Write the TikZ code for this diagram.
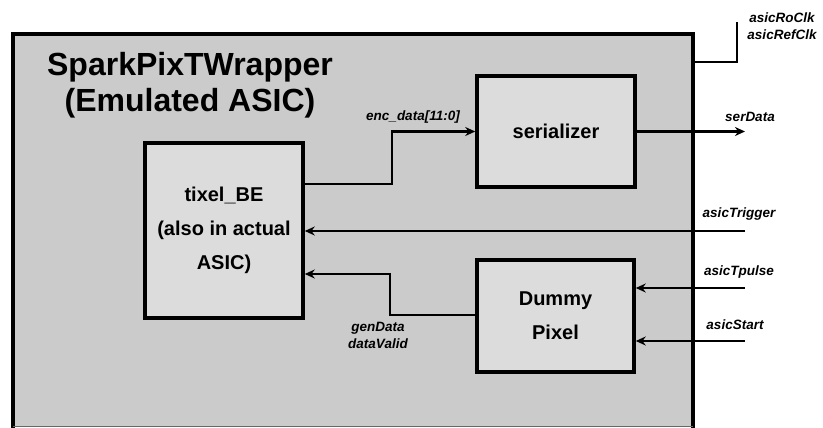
\documentclass[tikz,border=0pt]{standalone}
\usepackage{fontspec}
\setmainfont{Liberation Sans}
\usetikzlibrary{arrows.meta}
\definecolor{outergray}{HTML}{CBCBCB}
\definecolor{innergray}{HTML}{DCDCDC}
\begin{document}
\begin{tikzpicture}[x=1pt,y=-1pt,
  blk/.style={draw=black,line width=3.5pt,fill=innergray,inner sep=0pt,
    font=\bfseries\fontsize{20}{34}\selectfont,align=center},
  conn/.style={line width=2.3pt},
  arr/.style={conn,-{Stealth[length=10pt,width=9pt]}},
  sig/.style={font=\bfseries\itshape\fontsize{13.5}{17.5}\selectfont,inner sep=0pt,align=center}]
\useasboundingbox (0,0) rectangle (823,428);
% wrapper
\fill[outergray] (13,34) rectangle (693,426);
\draw[line width=4.5pt] (13,428) -- (13,34) -- (693,34) -- (693,428);
\draw[line width=1pt,black!60] (13,426) -- (693,426);
\node[font=\bfseries\fontsize{32}{36}\selectfont,align=center,inner sep=0pt] (title) at (190,85)
  {SparkPixTWrapper\\(Emulated ASIC)};
% blocks
\node[blk,minimum width=158pt,minimum height=175pt] (tix) at (224,230.5)
  {tixel\_BE\\(also in actual\\ASIC)};
\node[blk,minimum width=158pt,minimum height=111pt] (ser) at (556,131.5) {serializer};
\node[blk,minimum width=157pt,minimum height=112pt] (dum) at (555.5,316) {Dummy\\Pixel};
% free ends
\coordinate (serout) at (745,131.5);
\coordinate (trigin) at (745,231);
\coordinate (tpin) at (745,288);
\coordinate (stin) at (745,341);
\coordinate (clkw) at (693,62);
\coordinate (clktop) at (737,22);
% connectors
\draw[arr] ([yshift=46.5pt]tix.east) -- ++(87,0) |- (ser.west);
\draw[arr] (ser.east) -- (serout);
\draw[arr] (trigin) -- (trigin -| tix.east);
\draw[arr] (tpin) -- (tpin -| dum.east);
\draw[arr] (stin) -- (stin -| dum.east);
\draw[arr] ([yshift=1pt]dum.west) -- ++(-85,0) |- ([yshift=-43.5pt]tix.east);
\draw[conn] (clkw) -| (clktop);
% labels
\node[sig] (lenc) at (413,117) {enc\_data[11:0]};
\node[sig] (lser) at (750,117) {serData};
\node[sig] (ltrig) at (739,214) {asicTrigger};
\node[sig] (ltp) at (739,272) {asicTpulse};
\node[sig] (lst) at (735,325) {asicStart};
\node[sig] (lgen) at (378,335.5) {genData\\dataValid};
\node[sig] (lclk) at (782,26) {asicRoClk\\asicRefClk};
\end{tikzpicture}
\end{document}
